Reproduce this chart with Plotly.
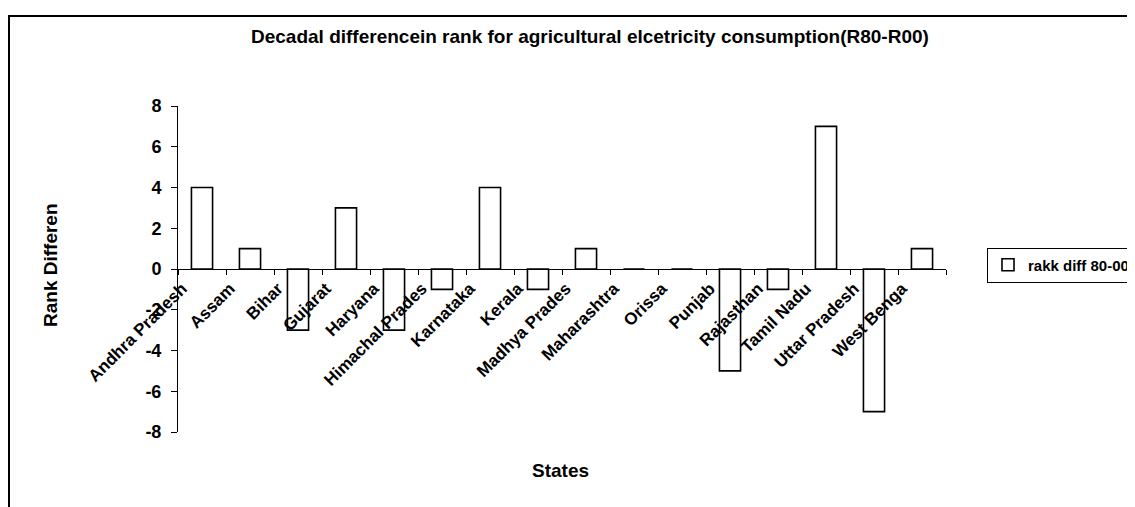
import plotly.graph_objects as go

states = ["Andhra Pradesh", "Assam", "Bihar", "Gujarat", "Haryana", "Himachal Prades",
          "Karnataka", "Kerala", "Madhya Prades", "Maharashtra", "Orissa", "Punjab",
          "Rajasthan", "Tamil Nadu", "Uttar Pradesh", "West Benga"]
rank_diff = [4, 1, -3, 3, -3, -1, 4, -1, 1, 0, 0, -5, -1, 7, -7, 1]
series_name = "rakk diff 80-00"
title_text = "Decadal differencein rank for agricultural elcetricity consumption(R80-R00)"
y_ticks = [-8, -6, -4, -2, 0, 2, 4, 6, 8]

FONT = "Liberation Sans"

# The page body has an 8px margin, so the figure is drawn at (8, 8).
OFF = 8
FIG_W, FIG_H = 1135 - OFF, 507 - OFF

fig = go.Figure()
fig.add_trace(go.Bar(
    x=states, y=rank_diff, name=series_name,
    marker=dict(color="white", line=dict(color="black", width=1.6)),
    showlegend=True,
))

# plot area in page pixels: x 178..946, y 106..432
L, R, T, B = 178, 946, 106, 432
W, H = R - L, B - T

def px_x(x):
    return (x - L) / W

def px_y(y):
    return (B - y) / H

fig.update_layout(
    width=FIG_W, height=FIG_H,
    margin=dict(l=L - OFF, r=FIG_W - (R - OFF), t=T - OFF, b=FIG_H - (B - OFF),
                pad=0, autoexpand=False),
    paper_bgcolor="white", plot_bgcolor="white",
    font=dict(family=FONT, color="black"),
    bargap=0.56,
    showlegend=True,
    legend=dict(x=px_x(987), xanchor="left", y=px_y(265), yanchor="middle",
                bordercolor="black", borderwidth=1, bgcolor="white",
                font=dict(family=FONT, size=15, weight="bold", color="black"),
                itemwidth=30, tracegroupgap=0),
    xaxis=dict(
        type="category", anchor="free", position=0.5,
        showline=True, linecolor="black", linewidth=1,
        ticks="outside", ticklen=5, tickcolor="black", tickson="boundaries",
        tickangle=-45, ticklabelshift=-20, ticklabelstandoff=2,
        tickfont=dict(family=FONT, size=17, weight="bold", color="black"),
        showgrid=False, zeroline=False,
    ),
    yaxis=dict(
        range=[-8, 8], tickvals=y_ticks, ticktext=[str(v) for v in y_ticks],
        showline=True, linecolor="black", linewidth=1,
        ticks="outside", ticklen=6, tickcolor="black", ticklabelstandoff=6,
        tickfont=dict(family=FONT, size=18, weight="bold", color="black"),
        showgrid=False, zeroline=False,
    ),
    shapes=[dict(type="rect", xref="paper", yref="paper",
                 x0=px_x(9), x1=px_x(1300), y0=px_y(560), y1=px_y(16),
                 line=dict(color="black", width=2), fillcolor="rgba(0,0,0,0)", layer="below")],
    annotations=[
        dict(text=title_text, xref="paper", yref="paper", x=px_x(590), y=px_y(37),
             xanchor="center", yanchor="middle", showarrow=False,
             font=dict(family=FONT, size=19, weight="bold", color="black")),
        dict(text="Rank Differen", xref="paper", yref="paper", x=px_x(50), y=px_y(265),
             xanchor="center", yanchor="middle", textangle=-90, showarrow=False,
             font=dict(family=FONT, size=19, weight="bold", color="black")),
        dict(text="States", xref="paper", yref="paper", x=px_x(560), y=px_y(470),
             xanchor="center", yanchor="middle", showarrow=False,
             font=dict(family=FONT, size=19, weight="bold", color="black")),
    ],
)

fig.write_html("out.html")
